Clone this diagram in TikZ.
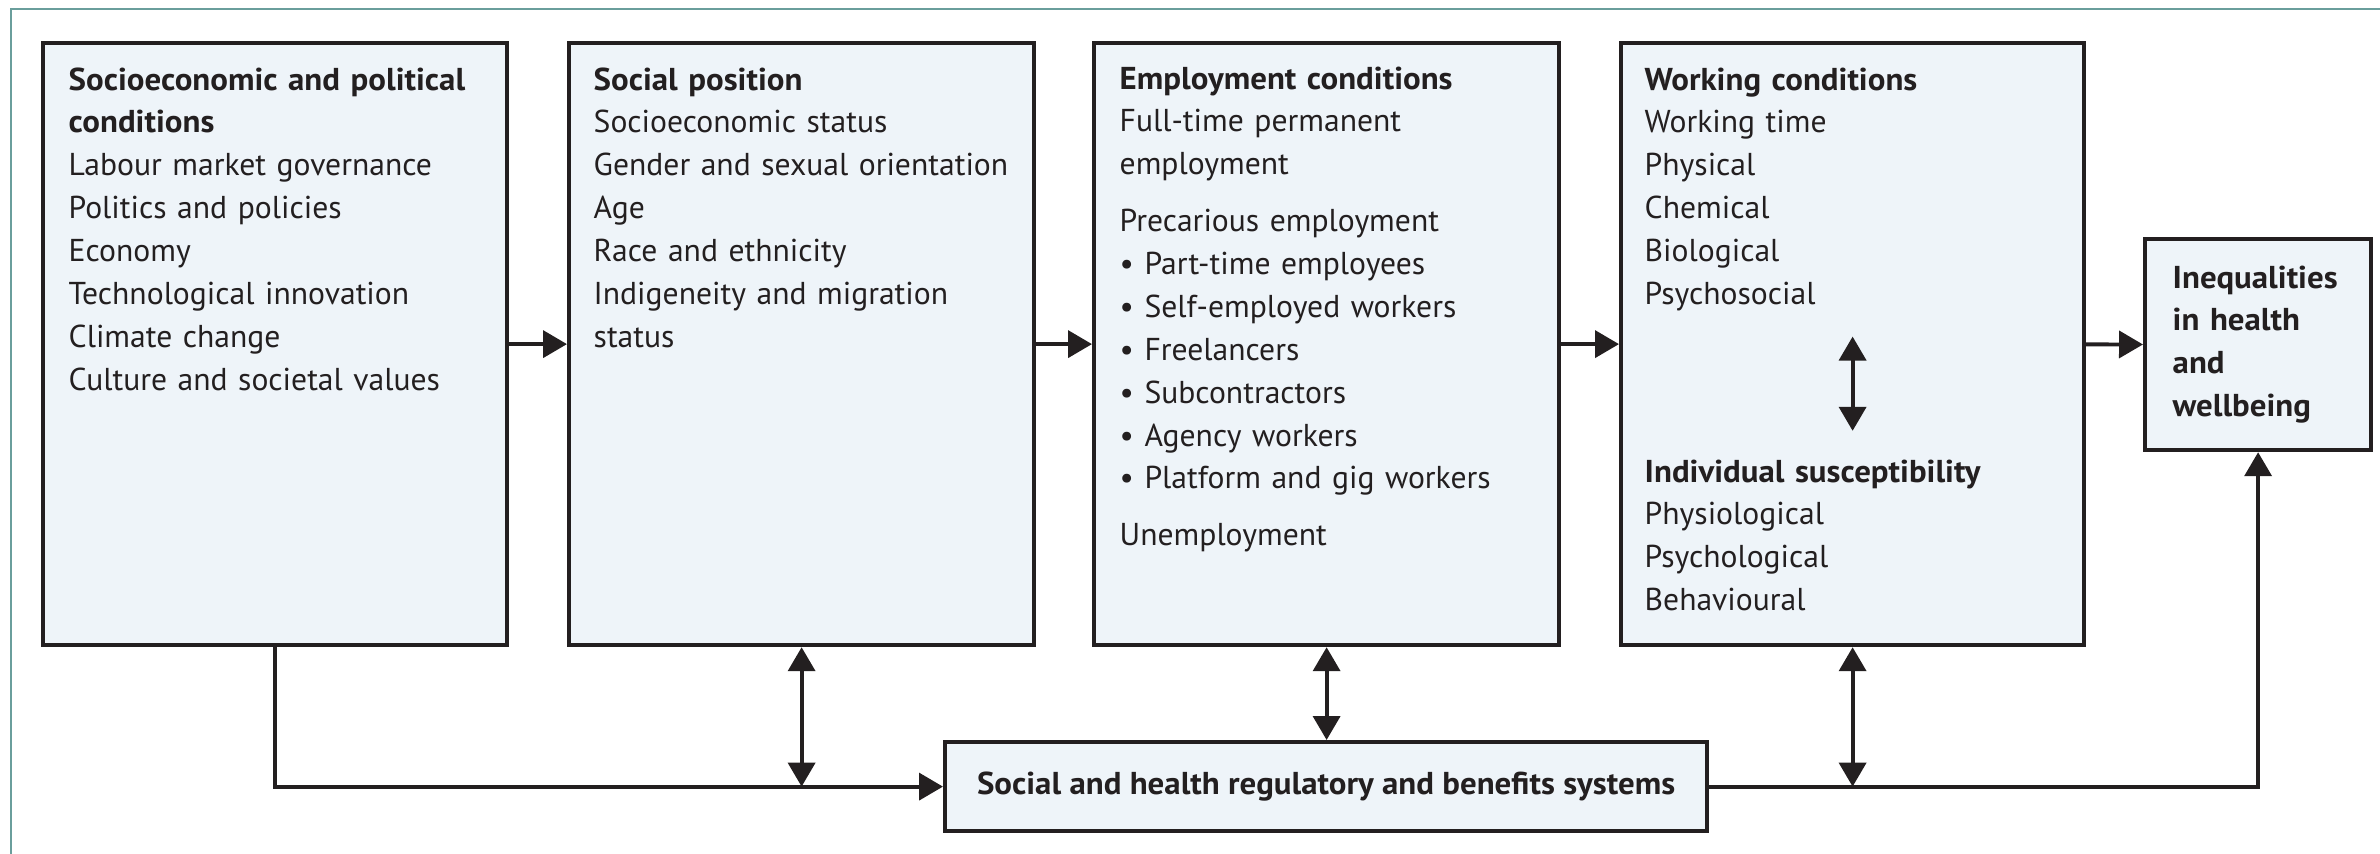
\documentclass[tikz,border=0pt]{standalone}
\usepackage{fontspec}
\setmainfont[BoldFeatures={FakeStretch=1.04}]{PT Sans}
\usetikzlibrary{arrows.meta}

\definecolor{boxfill}{HTML}{EEF4F9}
\definecolor{ink}{HTML}{231F20}
\definecolor{frameteal}{HTML}{6A9E9C}

\tikzset{
  panel/.style={draw=ink, fill=boxfill, line width=1.2pt, inner sep=0pt, anchor=north west, text=ink},
  txt/.style={inner sep=0pt, anchor=base west, text width=4.6cm, align=left, text=ink,
    font=\fontsize{9}{12.2}\selectfont},
  flow/.style={draw=ink, line width=1.1pt, ->},
  both/.style={draw=ink, line width=1.1pt, <->}
}

\begin{document}
\begin{tikzpicture}[x=1cm,y=1cm,line join=miter,>={Triangle[width=0.27cm,length=0.24cm]}]
\useasboundingbox (0,0) rectangle (23.8,-8.54);
\draw[frameteal, line width=0.7pt] (0.11,-8.54) -- (0.11,-0.09) -- (23.8,-0.09);

% boxes
\node[panel, minimum width=4.64cm, minimum height=6.02cm] (socio) at (0.41,-0.41) {};
\node[panel, minimum width=4.65cm, minimum height=6.02cm] (pos) at (5.67,-0.41) {};
\node[panel, minimum width=4.65cm, minimum height=6.02cm] (emp) at (10.92,-0.41) {};
\node[panel, minimum width=4.63cm, minimum height=6.02cm] (work) at (16.19,-0.41) {};
\node[panel, minimum width=2.26cm, minimum height=2.11cm] (ineq) at (21.43,-2.37) {};
\node[panel, minimum width=7.62cm, minimum height=0.89cm,
  font=\fontsize{9}{12.2}\selectfont\bfseries] (regs) at (9.43,-7.40)
  {Social and health regulatory and benefits systems};

% texts
\node[txt] (sociotxt) at (0.68,-0.90) {\textbf{Socioeconomic and political}\\
  \textbf{conditions}\\
  Labour market governance\\
  Politics and policies\\
  Economy\\
  Technological innovation\\
  Climate change\\
  Culture and societal values};

\node[txt] (postxt) at (5.93,-0.90) {\textbf{Social position}\\
  Socioeconomic status\\
  Gender and sexual orientation\\
  Age\\
  Race and ethnicity\\
  Indigeneity and migration\\
  status};

\node[txt] (emptxt) at (11.19,-0.89) {\textbf{Employment conditions}\\
  Full-time permanent\\
  employment\\[4pt]
  Precarious employment\\
  • Part-time employees\\
  • Self-employed workers\\
  • Freelancers\\
  • Subcontractors\\
  • Agency workers\\
  • Platform and gig workers\\[4pt]
  Unemployment};

\node[txt] (wc) at (16.44,-0.90) {\textbf{Working conditions}\\
  Working time\\
  Physical\\
  Chemical\\
  Biological\\
  Psychosocial};

\node[txt] (is) at (16.44,-4.82) {\textbf{Individual susceptibility}\\
  Physiological\\
  Psychological\\
  Behavioural};

\node[txt, text width=1.95cm] (ineqtxt) at (21.72,-2.88) {\textbf{Inequalities}\\
  \textbf{in health}\\
  \textbf{and}\\
  \textbf{wellbeing}};

% connectors
\draw[flow] (socio) -- (pos);
\draw[flow] (pos) -- (emp);
\draw[flow] (emp) -- (work);
\draw[flow] (work) -- (ineq);

\draw[both] ([yshift=-0.25cm]wc.south -| work.center) -- ([yshift=0.28cm]is.north -| work.center);

\draw[flow] (socio.south) |- (regs.west);
\draw[both] (pos.south) -- (pos.south |- regs.west);
\draw[both] (emp.south) -- (emp.south |- regs.north);
\draw[both] (work.south) -- (work.south |- regs.east);
\draw[flow] (regs.east) -| (ineq.south);

\end{tikzpicture}
\end{document}
